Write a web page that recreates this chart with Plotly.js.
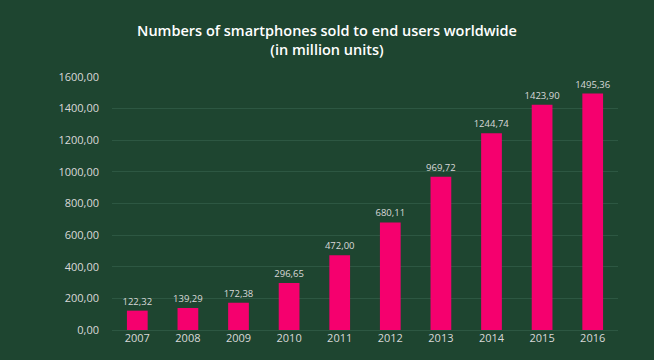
<!DOCTYPE html>
<html>
<head>
<meta charset="utf-8">
<script src="https://cdn.plot.ly/plotly-3.0.1.min.js"></script>
<style>html,body{margin:0;padding:0;background:#1e4530;}#chart{width:654px;height:360px;}</style>
</head>
<body>
<div id="chart"></div>
<script>
const years = ['2007','2008','2009','2010','2011','2012','2013','2014','2015','2016'];
const sales = [122.32, 139.29, 172.38, 296.65, 472.00, 680.11, 969.72, 1244.74, 1423.90, 1495.36];
const yTicks = [0, 200, 400, 600, 800, 1000, 1200, 1400, 1600];

const trace = {
  type: 'bar',
  x: years,
  y: sales,
  marker: {color: '#f5006e'},
  text: sales.map(v => v.toFixed(2).replace('.', ',')),
  textposition: 'outside',
  constraintext: 'none',
  textfont: {family: 'Open Sans, sans-serif', size: 9.5, color: '#d9d9d9'},
  cliponaxis: false,
  hoverinfo: 'none'
};

const layout = {
  width: 654, height: 360,
  paper_bgcolor: '#1e4530',
  plot_bgcolor: '#1e4530',
  margin: {l: 112, r: 36, t: 77, b: 30},
  bargap: 0.59,
  separators: ',.',
  showlegend: false,
  title: {
    text: 'Numbers of smartphones sold to end users worldwide<br>(in million units)',
    font: {family: 'Open Sans, sans-serif', size: 14.5, color: '#ffffff', weight: 600},
    x: 0.5, xanchor: 'center',
    y: 1 - 36/360, yref: 'container', yanchor: 'middle'
  },
  xaxis: {
    type: 'category',
    tickfont: {family: 'Open Sans, sans-serif', size: 11, color: '#d9d9d9'},
    showgrid: false, zeroline: false, showline: false,
    ticks: '', ticklen: 0
  },
  yaxis: {
    range: [0, 1600],
    tickvals: yTicks,
    tickformat: '.2f',
    tickfont: {family: 'Open Sans, sans-serif', size: 11, color: '#d9d9d9'},
    showgrid: true, gridcolor: '#2d5742', gridwidth: 1,
    zeroline: true, zerolinecolor: '#2d5742',
    ticks: '', ticklabelstandoff: 12
  }
};

Plotly.newPlot('chart', [trace], layout, {displayModeBar: false, staticPlot: true});
</script>
</body>
</html>
